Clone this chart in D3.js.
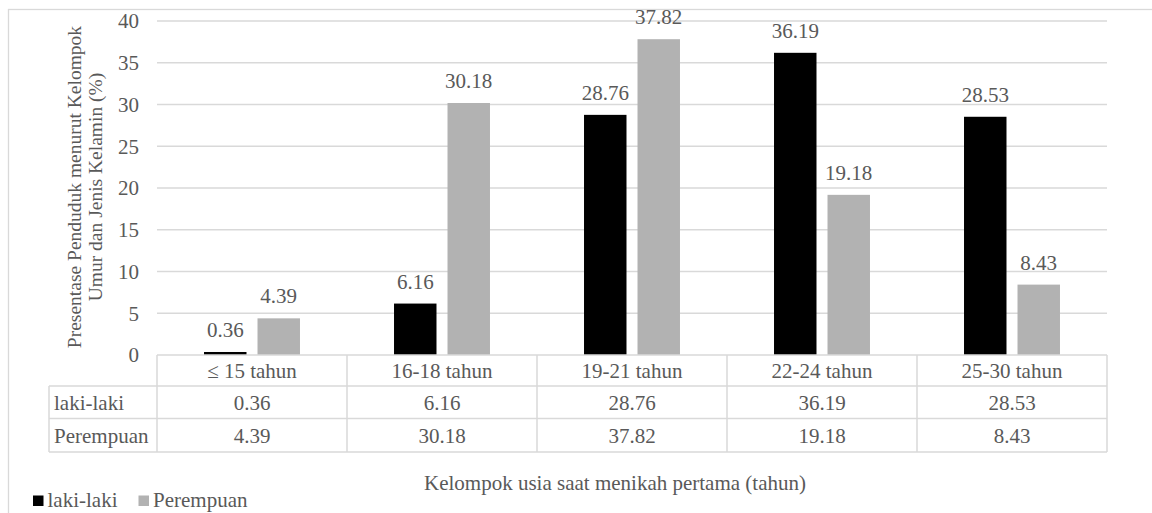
<!DOCTYPE html>
<html>
<head>
<meta charset="utf-8">
<script src="https://cdn.jsdelivr.net/npm/d3@7"></script>
<style>
  html, body { margin: 0; padding: 0; background: #fff; }
  svg { display: block; }
</style>
</head>
<body>
<svg id="chart" width="1152" height="513" font-family="Liberation Serif, serif"></svg>
<script>
const categories = ["≤ 15 tahun", "16-18 tahun", "19-21 tahun", "22-24 tahun", "25-30 tahun"];
const seriesNames = ["laki-laki", "Perempuan"];
const lakiLaki = [0.36, 6.16, 28.76, 36.19, 28.53];
const perempuan = [4.39, 30.18, 37.82, 19.18, 8.43];
const yTicks = [0, 5, 10, 15, 20, 25, 30, 35, 40];
const yTitleLines = ["Presentase Penduduk menurut Kelompok", "Umur dan Jenis Kelamin (%)"];
const xTitle = "Kelompok usia saat menikah pertama (tahun)";

(function () {
const seriesValues = [lakiLaki, perempuan];
const colors = { "laki-laki": "#000000", "Perempuan": "#b2b2b2" };
const gridColor = "#d9d9d9";
const textColor = "#595959";
const FONT = "'Liberation Serif', serif";
const fs = 21;

const svg = d3.select("#chart");
function styleText(sel, size) {
  return sel.style("font-family", FONT).style("font-size", size + "px").style("fill", textColor);
}

// outer border
svg.append("rect").attr("x", 8.5).attr("y", 9.5).attr("width", 1160).attr("height", 520)
  .attr("fill", "none").attr("stroke", gridColor).attr("stroke-width", 1.3);

const pLeft = 157, pRight = 1107, pTop = 21, pBottom = 355;
const y = d3.scaleLinear().domain([0, 40]).range([pBottom, pTop]);
const x0 = d3.scaleBand().domain(categories).range([pLeft, pRight]);
const x1 = d3.scaleBand().domain(seriesNames).range([0, x0.bandwidth()])
  .paddingInner(0.206).paddingOuter(0.879);

// gridlines
svg.append("g").selectAll("line").data(yTicks.filter(d => d > 0)).join("line")
  .attr("x1", pLeft).attr("x2", pRight)
  .attr("y1", d => y(d)).attr("y2", d => y(d))
  .attr("stroke", gridColor).attr("stroke-width", 1.3);

// y axis labels
const yAxis = svg.append("g").attr("transform", `translate(${pLeft},0)`)
  .call(d3.axisLeft(y).tickValues(yTicks).tickSize(0).tickPadding(18).tickFormat(d3.format("d")));
yAxis.attr("font-family", null).attr("font-size", null);
yAxis.select(".domain").remove();
styleText(yAxis.selectAll("text"), fs).attr("dy", "0.33em");

// bars
const rows = categories.map((c, i) => ({ cat: c, vals: seriesNames.map((s, j) => ({ s, v: seriesValues[j][i] })) }));
const groups = svg.append("g").selectAll("g").data(rows).join("g")
  .attr("transform", d => `translate(${x0(d.cat)},0)`);
groups.selectAll("rect").data(d => d.vals).join("rect")
  .attr("x", d => x1(d.s)).attr("width", x1.bandwidth())
  .attr("y", d => y(d.v)).attr("height", d => y(0) - y(d.v))
  .attr("fill", d => colors[d.s]);
styleText(groups.selectAll("text").data(d => d.vals).join("text")
  .attr("x", d => x1(d.s) + x1.bandwidth() / 2)
  .attr("y", d => y(d.v) - 15)
  .attr("text-anchor", "middle"), fs)
  .text(d => d3.format(".2f")(d.v));

// y title
const yt = styleText(svg.append("text").attr("transform", "translate(81,187) rotate(-90)")
  .attr("text-anchor", "middle"), 19.5);
yt.append("tspan").attr("x", 0).attr("dy", 0).text(yTitleLines[0]);
yt.append("tspan").attr("x", 0).attr("dy", 20.5).text(yTitleLines[1]);

// data table
const rowY = [355, 386, 418.5, 452];
const tableLeft = 49;
const tg = svg.append("g");
const hLines = [
  { x1: pLeft, x2: pRight, y: rowY[0] },
  { x1: tableLeft, x2: pRight, y: rowY[1] },
  { x1: tableLeft, x2: pRight, y: rowY[2] },
  { x1: tableLeft, x2: pRight, y: rowY[3] }
];
tg.selectAll("line.h").data(hLines).join("line").attr("class", "h")
  .attr("x1", d => d.x1).attr("x2", d => d.x2).attr("y1", d => d.y).attr("y2", d => d.y)
  .attr("stroke", gridColor).attr("stroke-width", 1.5);
const vx = categories.map(c => x0(c)).concat([pRight]);
tg.selectAll("line.v").data(vx).join("line").attr("class", "v")
  .attr("x1", d => d).attr("x2", d => d).attr("y1", rowY[0]).attr("y2", rowY[3])
  .attr("stroke", gridColor).attr("stroke-width", 1.5);
tg.append("line").attr("x1", tableLeft).attr("x2", tableLeft).attr("y1", rowY[1]).attr("y2", rowY[3])
  .attr("stroke", gridColor).attr("stroke-width", 1.5);

// header row: categories
styleText(tg.selectAll("text.cat").data(categories).join("text").attr("class", "cat")
  .attr("x", d => x0(d) + x0.bandwidth() / 2).attr("y", (rowY[0] + rowY[1]) / 2 + 7.5)
  .attr("text-anchor", "middle"), fs).text(d => d);
// series rows
seriesNames.forEach((s, j) => {
  const cy = (rowY[j + 1] + rowY[j + 2]) / 2 + 8;
  styleText(tg.append("text").attr("x", 54).attr("y", cy), fs).text(s);
  styleText(tg.selectAll("text.v" + j).data(seriesValues[j]).join("text").attr("class", "v" + j)
    .attr("x", (d, i) => x0(categories[i]) + x0.bandwidth() / 2).attr("y", cy)
    .attr("text-anchor", "middle"), fs).text(d => d3.format(".2f")(d));
});

// x title
styleText(svg.append("text").attr("x", 615).attr("y", 489.5).attr("text-anchor", "middle"), fs)
  .text(xTitle);

// legend
const legendPos = [{ s: "laki-laki", x: 33 }, { s: "Perempuan", x: 138.5 }];
const lg = svg.append("g").selectAll("g").data(legendPos).join("g");
lg.append("rect").attr("x", d => d.x).attr("y", 495.5).attr("width", 10.5).attr("height", 10.5)
  .attr("fill", d => colors[d.s]);
styleText(lg.append("text").attr("x", d => d.x + 14.5).attr("y", 507), fs).text(d => d.s);
})();
</script>
</body>
</html>
